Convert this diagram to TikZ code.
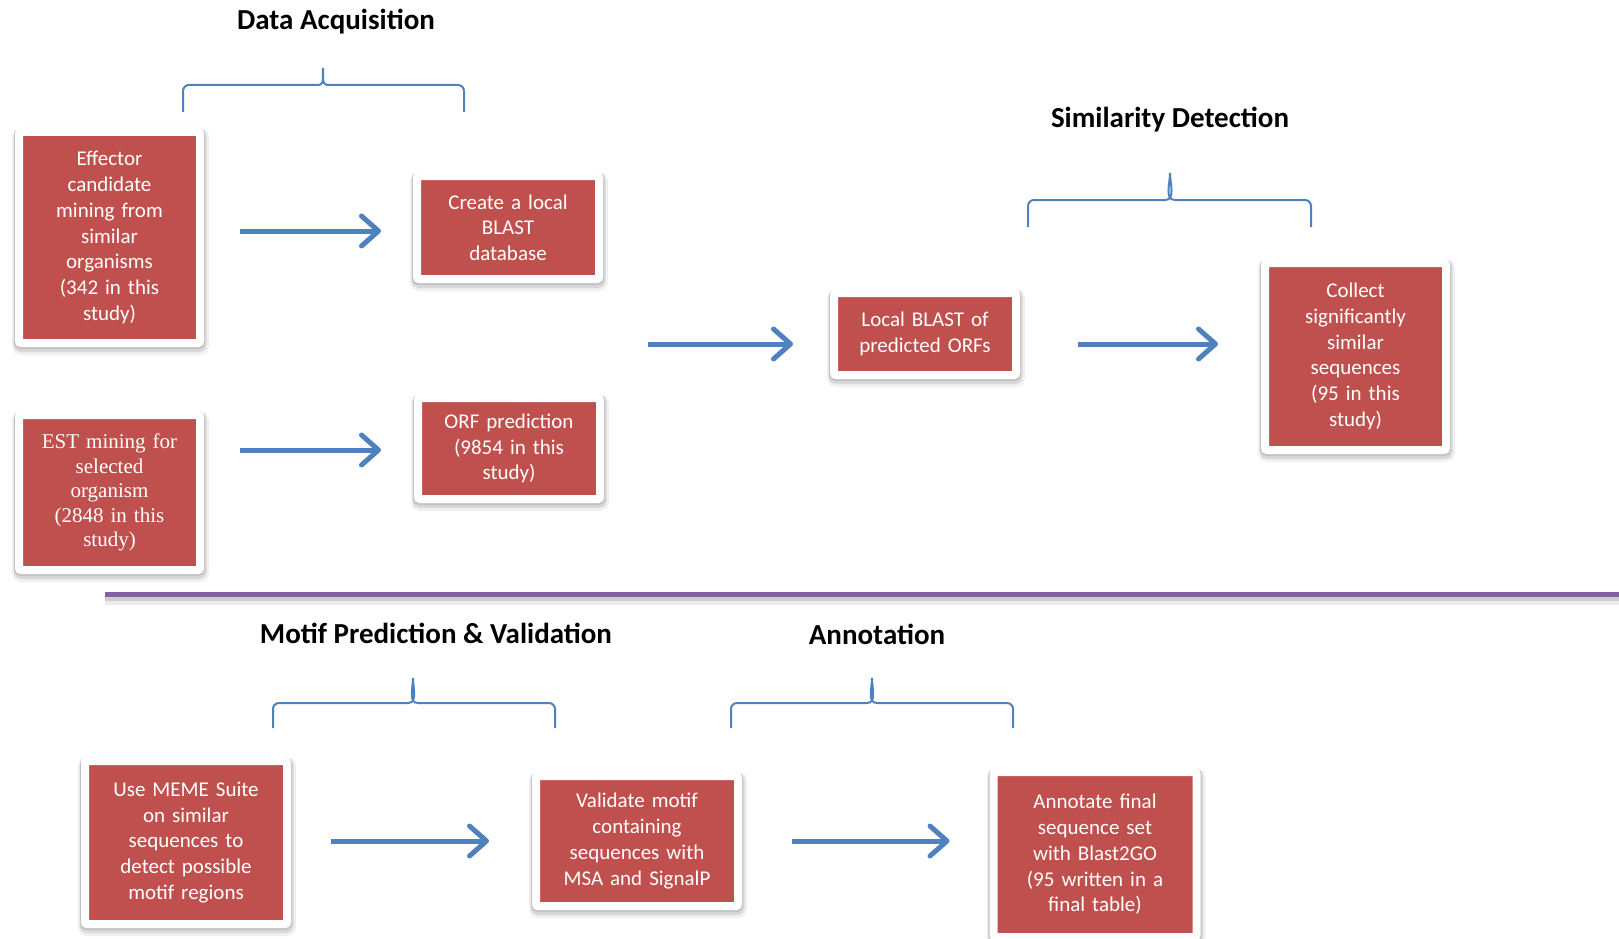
\documentclass[tikz,border=0pt]{standalone}
\usepackage{fontspec}
\setmainfont{Carlito}
\newfontfamily\timesfont{Liberation Serif}
\usetikzlibrary{arrows.meta}
\definecolor{boxred}{HTML}{C0504D}
\definecolor{flowblue}{HTML}{4F81BD}
\definecolor{rulepurple}{HTML}{8064A2}

\begin{document}
\begin{tikzpicture}[x=1pt,y=-1pt]
        \tikzstyle{stepbox} = [rectangle, draw=white, line width=8pt, rounded corners=2pt, fill=boxred, text=white, inner sep=0pt, align=center, font=\fontsize{21}{25.7}\selectfont,
            preaction={draw=black, opacity=0.06, line width=16pt, rounded corners=6pt, transform canvas={xshift=1pt, yshift=-4pt}},
            preaction={draw=black, opacity=0.10, line width=12pt, rounded corners=4pt, transform canvas={xshift=0.5pt, yshift=-3pt}},
            preaction={draw=black, opacity=0.10, line width=10pt, transform canvas={yshift=-1pt}}]
        \tikzstyle{stagetitle} = [anchor=base, inner sep=0pt, font=\fontsize{29}{34}\selectfont\bfseries]
        \tikzstyle{flow} = [flowblue, line width=5pt, -{Straight Barb[length=17pt,width=30pt,round]}]
        \tikzstyle{grpbrace} = [flowblue, line width=2pt]
        \useasboundingbox (0,0) rectangle (1619,939);
        % stage titles and braces
        \node[stagetitle] (tacq) at (336,30) {Data Acquisition};
        \node[stagetitle] (tsim) at (1170,128) {Similarity Detection};
        \node[stagetitle] (tmot) at (436,643) {Motif Prediction \& Validation};
        \node[stagetitle] (tann) at (877,644) {Annotation};
        \foreach \xa/\xm/\xb/\yt/\yh/\ye in {183/323/464/68/85/112, 1028/1170/1311/173/200/227, 273/413/555/678/703/728, 731/872/1013/678/703/728}
            \draw[grpbrace] (\xa,\ye) -- (\xa,\yh+6) to[out=90,in=180] (\xa+6,\yh) -- (\xm-5,\yh) to[out=0,in=-90] (\xm,\yt) to[out=-90,in=180] (\xm+5,\yh) -- (\xb-6,\yh) to[out=0,in=90] (\xb,\yh+6) -- (\xb,\ye);
        % separator
        \draw[black, opacity=0.08, line width=8pt] (105,601) -- (1619,601);
        \draw[black, opacity=0.12, line width=4pt] (105,598.5) -- (1619,598.5);
        \draw[rulepurple, line width=5pt] (105,594.5) -- (1619,594.5);
        % steps
        \node[stepbox, text width=181pt, minimum height=211pt] (eff) at (109.5,237.5) {Effector\\candidate\\mining from\\similar\\organisms\\(342 in this\\study)};
        \node[stepbox, text width=182pt, minimum height=103pt] (cdb) at (508,227.5) {Create a local\\BLAST\\database};
        \node[stepbox, text width=181pt, minimum height=155pt, font=\timesfont\fontsize{21}{24.6}\selectfont] (est) at (109.5,492.5) {EST mining for\\selected\\organism\\(2848 in this\\study)};
        \node[stepbox, text width=182pt, minimum height=101pt] (orf) at (509,448.5) {ORF prediction\\(9854 in this\\study)};
        \node[stepbox, text width=182pt, minimum height=82pt] (lbl) at (925,334) {Local BLAST of\\predicted ORFs};
        \node[stepbox, text width=181pt, minimum height=187pt] (col) at (1355.5,356.5) {Collect\\significantly\\similar\\sequences\\(95 in this\\study)};
        \node[stepbox, text width=202pt, minimum height=163pt] (meme) at (186,842.5) {Use MEME Suite\\on similar\\sequences to\\detect possible\\motif regions};
        \node[stepbox, text width=202pt, minimum height=130pt] (val) at (637,841) {Validate motif\\containing\\sequences with\\MSA and SignalP};
        \node[stepbox, text width=203pt, minimum height=165pt] (ann) at (1095,854.5) {Annotate final\\sequence set\\with Blast2GO\\(95 written in a\\final table)};
        \coordinate (join) at (648,344);
        % flow
        \draw[flow, shorten <=36pt, shorten >=32pt] ([yshift=-3.5pt]eff.east |- cdb.west) -- ([yshift=-3.5pt]cdb.west);
        \draw[flow, shorten <=36pt, shorten >=33pt] ([yshift=-1.5pt]est.east |- orf.west) -- ([yshift=-1.5pt]orf.west);
        \draw[flow, shorten >=37pt] (join) -- (join -| lbl.west);
        \draw[flow, shorten <=58pt, shorten >=43pt] ([yshift=-10pt]lbl.east) -- ([yshift=-10pt]lbl.east -| col.west);
        \draw[flow, shorten <=40pt, shorten >=43pt] (meme.east |- val.west) -- (val.west);
        \draw[flow, shorten <=50pt, shorten >=40pt] (val.east) -- (val.east -| ann.west);
\end{tikzpicture}
\end{document}
